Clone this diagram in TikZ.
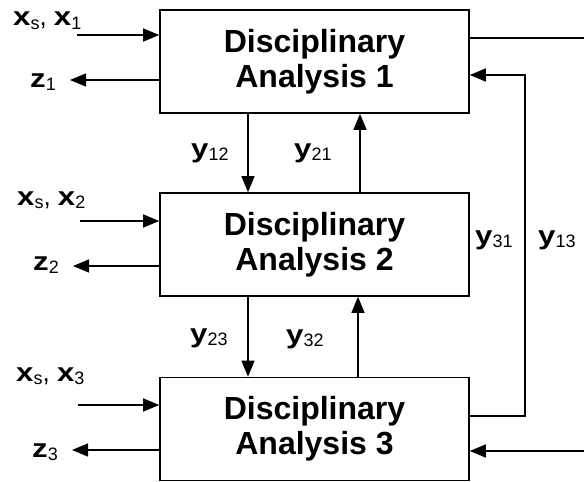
\documentclass[tikz,border=0pt]{standalone}
\usepackage{fontspec}
\setmainfont{Liberation Sans}
\usetikzlibrary{arrows.meta}
\newcommand\vlbl[2]{\scalebox{1.2}[1]{\bfseries #1}\raisebox{-3.5pt}{\fontsize{18}{18}\selectfont\mdseries #2}}
\begin{document}
\begin{tikzpicture}[x=1pt,y=-1pt,
  box/.style={draw=black, line width=1.6pt, minimum width=309pt, minimum height=103pt, inner sep=0pt, align=center, font=\fontsize{32}{35}\selectfont\bfseries},
  conn/.style={line width=1.3pt, -{Triangle[length=16pt,width=13pt]}},
  plainline/.style={line width=1.3pt},
  lab/.style={anchor=base west, inner sep=0pt, font=\fontsize{26}{28}\selectfont}
]
\useasboundingbox (0,0) rectangle (584,482);
\node[box] (b1) at (314.5,61.5) {Disciplinary\\Analysis 1};
\node[box] (b2) at (314.5,244.5) {Disciplinary\\Analysis 2};
\node[box] (b3) at (314.5,429) {Disciplinary\\Analysis 3};

% labels
\node[lab] (lx1) at (13,25.5) {\vlbl{x}{s}, \vlbl{x}{1}};
\node[lab] (lz1) at (30,87) {\vlbl{z}{1}};
\node[lab] (lx2) at (17,205) {\vlbl{x}{s}, \vlbl{x}{2}};
\node[lab] (lz2) at (33,270) {\vlbl{z}{2}};
\node[lab] (lx3) at (16,381) {\vlbl{x}{s}, \vlbl{x}{3}};
\node[lab] (lz3) at (32,457) {\vlbl{z}{3}};
\node[lab] (ly12) at (191,157) {\vlbl{y}{12}};
\node[lab] (ly21) at (294,157) {\vlbl{y}{21}};
\node[lab] (ly23) at (190,342) {\vlbl{y}{23}};
\node[lab] (ly32) at (286,343) {\vlbl{y}{32}};
\node[lab] (ly31) at (475,244) {\vlbl{y}{31}};
\node[lab] (ly13) at (538,244) {\vlbl{y}{13}};

% coordinates
\coordinate (i1) at (77,35);
\coordinate (o1) at (70,80);
\coordinate (i2) at (80,221);
\coordinate (o2) at (73,266);
\coordinate (i3) at (78,405);
\coordinate (o3) at (72,450);
\coordinate (dA) at (248,0);
\coordinate (uA) at (360,0);
\coordinate (uB) at (358,0);
\coordinate (r1) at (584,38);
\coordinate (r3) at (584,451);
\coordinate (lp) at (525,416);
\coordinate (lq) at (525,75);

% side arrows
\draw[conn] (i1) -- (i1 -| b1.west);
\draw[conn] (o1 -| b1.west) -- (o1);
\draw[conn] (i2) -- (i2 -| b2.west);
\draw[conn] (o2 -| b2.west) -- (o2);
\draw[conn] (i3) -- (i3 -| b3.west);
\draw[conn] (o3 -| b3.west) -- (o3);

% couplings
\draw[conn] (dA |- b1.south) -- (dA |- b2.north);
\draw[conn] (uA |- b2.north) -- (uA |- b1.south);
\draw[conn] (dA |- b2.south) -- (dA |- b3.north);
\draw[conn] (uB |- b3.north) -- (uB |- b2.south);

% right side
\draw[plainline] (r1 -| b1.east) -- (r1);
\draw[conn] (r3) -- (r3 -| b3.east);
\draw[conn] (lp -| b3.east) -- (lp) -- (lq) -- (lq -| b1.east);
\end{tikzpicture}
\end{document}
